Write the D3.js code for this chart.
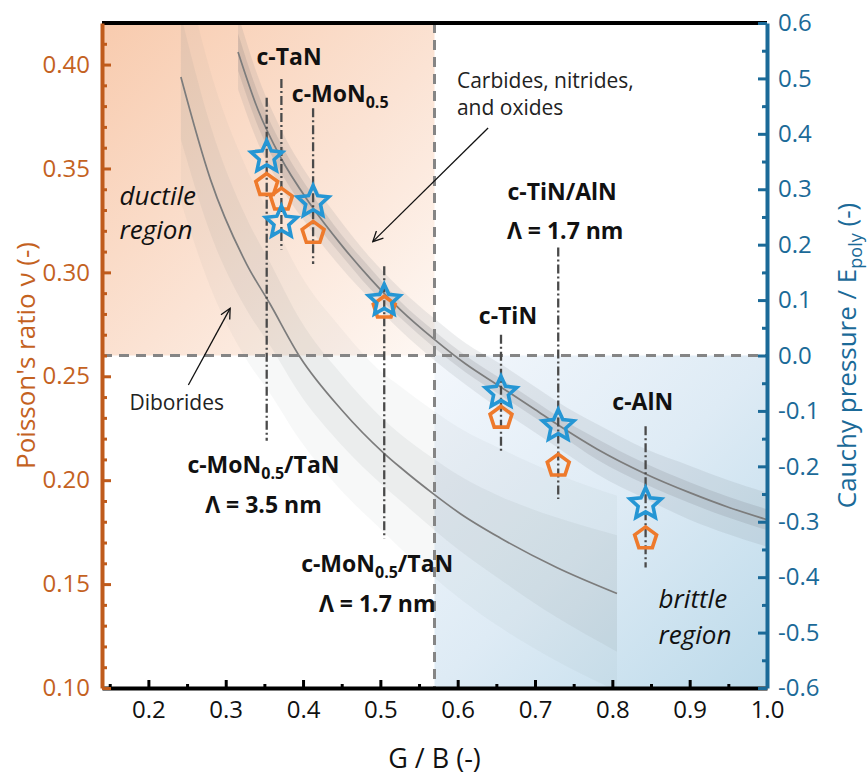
<!DOCTYPE html>
<html>
<head>
<meta charset="utf-8">
<script src="https://cdn.jsdelivr.net/npm/d3@7/dist/d3.min.js"></script>
<style>
  html, body { margin: 0; padding: 0; background: #fff; }
  svg { display: block; font-family: "Open Sans", "Noto Sans", sans-serif; }
</style>
</head>
<body>
<svg id="chart" width="868" height="778"></svg>
<script>
// ---- data -------------------------------------------------------------
// Fitted trend for carbides, nitrides and oxides (G/B vs Poisson's ratio)
const carbGB    = [0.316, 0.342, 0.370, 0.409, 0.450, 0.487, 0.526, 0.569, 0.610, 0.655, 0.700, 0.728, 0.780, 0.843, 0.900, 0.950, 1.000];
const carbNu    = [0.406, 0.378, 0.356, 0.333, 0.313, 0.297, 0.282, 0.268, 0.256, 0.245, 0.234, 0.227, 0.215, 0.203, 0.194, 0.187, 0.181];
const carbInner = [0.009, 0.008, 0.007, 0.006, 0.005, 0.005, 0.004, 0.004, 0.004, 0.004, 0.004, 0.004, 0.005, 0.005, 0.005, 0.005, 0.005];
const carbOuter = [0.018, 0.016, 0.014, 0.012, 0.011, 0.010, 0.010, 0.010, 0.010, 0.011, 0.011, 0.011, 0.012, 0.012, 0.013, 0.013, 0.013];

// Fitted trend for diborides
const dibGB    = [0.242, 0.280, 0.327, 0.357, 0.396, 0.450, 0.504, 0.526, 0.569, 0.603, 0.655, 0.728, 0.806];
const dibNu    = [0.394, 0.345, 0.304, 0.285, 0.2593, 0.2338, 0.2132, 0.2061, 0.1933, 0.1840, 0.1722, 0.1580, 0.1455];
const dibInner = [0.030, 0.026, 0.022, 0.020, 0.018, 0.017, 0.016, 0.016, 0.017, 0.018, 0.020, 0.024, 0.028];
const dibOuter = [0.060, 0.052, 0.046, 0.043, 0.040, 0.039, 0.038, 0.039, 0.040, 0.041, 0.043, 0.045, 0.047];

// Materials: G/B, Poisson's ratio (pentagons), Cauchy pressure / E_poly (stars)
const materials   = ["c-MoN0.5/TaN 3.5 nm", "c-TaN", "c-MoN0.5", "c-MoN0.5/TaN 1.7 nm", "c-TiN", "c-TiN/AlN 1.7 nm", "c-AlN"];
const matGB       = [0.353, 0.372, 0.413, 0.505, 0.656, 0.730, 0.843];
const matPoisson  = [0.342, 0.335, 0.319, 0.283, 0.230, 0.207, 0.172];
const matCauchy   = [0.358, 0.240, 0.277, 0.099, -0.067, -0.127, -0.268];
const guideTop    = [0.384, 0.393, 0.379, 0.303, 0.270, 0.312, 0.226];
const guideBottom = [0.219, 0.311, 0.304, 0.172, 0.213, 0.191, 0.158];

// Ductile / brittle criteria
const pughRatio = 0.57;
const poissonCritical = 0.26;

// Axis ticks
const xTicks      = [0.2, 0.3, 0.4, 0.5, 0.6, 0.7, 0.8, 0.9, 1.0];
const xMinor      = [0.15, 0.25, 0.35, 0.45, 0.55, 0.65, 0.75, 0.85, 0.95];
const leftTicks   = [0.10, 0.15, 0.20, 0.25, 0.30, 0.35, 0.40];
const leftMinor   = [0.11,0.12,0.13,0.14,0.16,0.17,0.18,0.19,0.21,0.22,0.23,0.24,0.26,0.27,0.28,0.29,0.31,0.32,0.33,0.34,0.36,0.37,0.38,0.39,0.41];
const rightTicks  = [-0.6, -0.5, -0.4, -0.3, -0.2, -0.1, 0.0, 0.1, 0.2, 0.3, 0.4, 0.5, 0.6];
const rightMinor  = [-0.55, -0.45, -0.35, -0.25, -0.15, -0.05, 0.05, 0.15, 0.25, 0.35, 0.45, 0.55];

// ---- layout -----------------------------------------------------------
const svg = d3.select("#chart");
const L = 102, R = 767, T = 23, B = 688;
const x  = d3.scaleLinear().domain([0.14, 1.0]).range([L, R]);
const yL = d3.scaleLinear().domain([0.10, 0.42]).range([B, T]);
const yR = d3.scaleLinear().domain([-0.6, 0.6]).range([B, T]);

const ORANGE = "#bf5b1c", ORANGE_TXT = "#c4621f";
const BLUE = "#1b6a98";
const defs = svg.append("defs");

defs.append("clipPath").attr("id", "plotClip")
  .append("rect").attr("x", L).attr("y", T).attr("width", R - L).attr("height", B - T);

const gOr = defs.append("linearGradient").attr("id", "ductileGrad")
  .attr("x1", "0").attr("y1", "0").attr("x2", "1").attr("y2", "1");
gOr.append("stop").attr("offset", "0%").attr("stop-color", "#f8cbae");
gOr.append("stop").attr("offset", "55%").attr("stop-color", "#fbe3d4");
gOr.append("stop").attr("offset", "100%").attr("stop-color", "#fef8f4");

const gBl = defs.append("linearGradient").attr("id", "brittleGrad")
  .attr("x1", "0").attr("y1", "0").attr("x2", "1").attr("y2", "1");
gBl.append("stop").attr("offset", "0%").attr("stop-color", "#f3f7fc");
gBl.append("stop").attr("offset", "50%").attr("stop-color", "#deebf5");
gBl.append("stop").attr("offset", "100%").attr("stop-color", "#bcdaea");

defs.append("marker").attr("id", "arrowHead")
  .attr("viewBox", "0 0 12 12").attr("refX", 11).attr("refY", 6)
  .attr("markerWidth", 12).attr("markerHeight", 12).attr("markerUnits", "userSpaceOnUse")
  .attr("orient", "auto")
  .append("path").attr("d", "M1,1 L11,6 L1,11").attr("fill", "none")
  .attr("stroke", "#111").attr("stroke-width", 1.3);

// ---- region shading ---------------------------------------------------
svg.append("rect")
  .attr("x", x(0.14)).attr("y", yL(0.42))
  .attr("width", x(pughRatio) - x(0.14)).attr("height", yL(poissonCritical) - yL(0.42))
  .attr("fill", "url(#ductileGrad)");
svg.append("rect")
  .attr("x", x(pughRatio)).attr("y", yL(poissonCritical))
  .attr("width", x(1.0) - x(pughRatio)).attr("height", yL(0.10) - yL(poissonCritical))
  .attr("fill", "url(#brittleGrad)");

// ---- trend bands and lines -------------------------------------------
const plot = svg.append("g").attr("clip-path", "url(#plotClip)");

function band(gb, nu, half, fill) {
  const rows = gb.map((g, i) => ({ g, lo: nu[i] - half[i], hi: nu[i] + half[i] }));
  const area = d3.area().x(d => x(d.g)).y0(d => yL(d.lo)).y1(d => yL(d.hi)).curve(d3.curveMonotoneX);
  plot.append("path").datum(rows).attr("d", area).attr("fill", fill);
}
function trend(gb, nu) {
  const line = d3.line().x((d, i) => x(gb[i])).y(d => yL(d)).curve(d3.curveMonotoneX);
  plot.append("path").datum(nu).attr("d", line)
    .attr("fill", "none").attr("stroke", "#7c7c7c").attr("stroke-width", 1.7);
}

band(dibGB, dibNu, dibOuter, "rgba(125,130,135,0.06)");
band(dibGB, dibNu, dibInner, "rgba(125,130,135,0.09)");
band(carbGB, carbNu, carbOuter, "rgba(110,115,120,0.12)");
band(carbGB, carbNu, carbInner, "rgba(90,95,100,0.14)");
trend(dibGB, dibNu);
trend(carbGB, carbNu);

// ---- criteria lines ---------------------------------------------------
svg.append("line")
  .attr("x1", x(0.14)).attr("x2", x(1.0))
  .attr("y1", yL(poissonCritical)).attr("y2", yL(poissonCritical))
  .attr("stroke", "#858585").attr("stroke-width", 3).attr("stroke-dasharray", "10,7");
svg.append("line")
  .attr("x1", x(pughRatio)).attr("x2", x(pughRatio))
  .attr("y1", yL(0.42)).attr("y2", yL(0.10))
  .attr("stroke", "#858585").attr("stroke-width", 3).attr("stroke-dasharray", "10,7");

// ---- guide lines under each material ----------------------------------
svg.append("g").selectAll("line").data(matGB).join("line")
  .attr("x1", d => x(d)).attr("x2", d => x(d))
  .attr("y1", (d, i) => yL(guideTop[i])).attr("y2", (d, i) => yL(guideBottom[i]))
  .attr("stroke", "#4a4a4a").attr("stroke-width", 2.3)
  .attr("stroke-dasharray", "9,3,2,3");

// ---- markers ----------------------------------------------------------
function polyPath(n, rOut, rIn) {
  const pts = [];
  const step = Math.PI / n;
  for (let k = 0; k < 2 * n; k++) {
    if (rIn == null && k % 2 === 1) continue;
    const r = (rIn == null) ? rOut : (k % 2 === 0 ? rOut : rIn);
    const a = -Math.PI / 2 + k * step;
    pts.push([r * Math.cos(a), r * Math.sin(a)]);
  }
  return "M" + pts.map(p => p[0].toFixed(2) + "," + p[1].toFixed(2)).join("L") + "Z";
}
const pentagon = polyPath(5, 11.5);
const star = polyPath(5, 16.5, 7.8);

svg.append("g").selectAll("path").data(matGB).join("path")
  .attr("d", pentagon)
  .attr("transform", (d, i) => `translate(${x(d)},${yL(matPoisson[i])})`)
  .attr("fill", "none").attr("stroke", "#ee7a2c").attr("stroke-width", 3.6)
  .attr("stroke-linejoin", "miter");
svg.append("g").selectAll("path").data(matGB).join("path")
  .attr("d", star)
  .attr("transform", (d, i) => `translate(${x(d)},${yR(matCauchy[i])})`)
  .attr("fill", "none").attr("stroke", "#2596d4").attr("stroke-width", 3.6)
  .attr("stroke-linejoin", "miter");

// ---- annotations ------------------------------------------------------
const ann = svg.append("g").attr("font-weight", 700).attr("font-size", 23).attr("fill", "#111");
function moLabel(g, px, py, anchor, tail) {
  const t = g.append("text").attr("x", px).attr("y", py).attr("text-anchor", anchor);
  t.append("tspan").text("c-MoN");
  t.append("tspan").attr("font-size", 16).attr("dy", 6).text("0.5");
  if (tail) t.append("tspan").attr("dy", -6).text(tail);
  return t;
}
ann.append("text").attr("x", x(0.382)).attr("y", yL(0.400)).attr("text-anchor", "middle").text("c-TaN");
moLabel(ann, x(0.3855), yL(0.3822), "start", null);
moLabel(ann, x(0.3488), yL(0.2034), "middle", "/TaN");
ann.append("text").attr("x", x(0.3488)).attr("y", yL(0.184)).attr("text-anchor", "middle").text("Λ = 3.5 nm");
moLabel(ann, x(0.4959), yL(0.1559), "middle", "/TaN");
ann.append("text").attr("x", x(0.4959)).attr("y", yL(0.1367)).attr("text-anchor", "middle").text("Λ = 1.7 nm");
ann.append("text").attr("x", x(0.665)).attr("y", yL(0.2753)).attr("text-anchor", "middle").text("c-TiN");
ann.append("text").attr("x", x(0.8393)).attr("y", yL(0.234)).attr("text-anchor", "middle").text("c-AlN");
ann.append("text").attr("x", x(0.735)).attr("y", yL(0.3346)).attr("text-anchor", "middle").text("c-TiN/AlN");
ann.append("text").attr("x", x(0.739)).attr("y", yL(0.3163)).attr("text-anchor", "middle").text("Λ = 1.7 nm");

const notes = svg.append("g").attr("font-size", 21).attr("fill", "#222");
notes.append("text").attr("x", x(0.599)).attr("y", yL(0.3888)).text("Carbides, nitrides,");
notes.append("text").attr("x", x(0.599)).attr("y", yL(0.3758)).text("and oxides");
notes.append("text").attr("x", x(0.1755)).attr("y", yL(0.2339)).text("Diborides");

svg.append("line")
  .attr("x1", x(0.6393)).attr("y1", yL(0.3695)).attr("x2", x(0.4902)).attr("y2", yL(0.3148))
  .attr("stroke", "#111").attr("stroke-width", 1.3).attr("marker-end", "url(#arrowHead)");
svg.append("line")
  .attr("x1", x(0.2517)).attr("y1", yL(0.2458)).attr("x2", x(0.3057)).attr("y2", yL(0.2827))
  .attr("stroke", "#111").attr("stroke-width", 1.3).attr("marker-end", "url(#arrowHead)");

const regions = svg.append("g").attr("font-size", 26).attr("font-style", "italic").attr("fill", "#111");
regions.append("text").attr("x", x(0.1627)).attr("y", yL(0.3322)).text("ductile");
regions.append("text").attr("x", x(0.1627)).attr("y", yL(0.3162)).text("region");
regions.append("text").attr("x", x(0.8598)).attr("y", yL(0.1383)).text("brittle");
regions.append("text").attr("x", x(0.8598)).attr("y", yL(0.1214)).text("region");

// ---- axes -------------------------------------------------------------
function styleAxis(g, color, fontSize) {
  g.select(".domain").attr("stroke", color).attr("stroke-width", 4);
  g.selectAll(".tick line").attr("stroke", color).attr("stroke-width", 3);
  g.selectAll(".tick text").attr("fill", color).attr("font-size", fontSize)
    .attr("font-family", "'Open Sans', sans-serif");
}

// top frame
svg.append("line").attr("x1", L).attr("x2", R).attr("y1", T).attr("y2", T)
  .attr("stroke", "#000").attr("stroke-width", 4);

const xAxis = svg.append("g").attr("transform", `translate(0,${B})`)
  .call(d3.axisBottom(x).tickValues(xTicks).tickSize(-8).tickSizeOuter(0).tickPadding(13)
    .tickFormat(d => d.toFixed(1)));
styleAxis(xAxis, "#000", 24);
xAxis.selectAll(".tick text").attr("fill", "#111");
const xMin = svg.append("g").attr("transform", `translate(0,${B})`)
  .call(d3.axisBottom(x).tickValues(xMinor).tickSize(-4).tickSizeOuter(0).tickFormat(""));
styleAxis(xMin, "#000", 24);
xMin.select(".domain").remove();

const rAxis = svg.append("g").attr("transform", `translate(${R},0)`)
  .call(d3.axisRight(yR).tickValues(rightTicks).tickSize(-9).tickSizeOuter(0).tickPadding(11)
    .tickFormat(d => d.toFixed(1)));
styleAxis(rAxis, BLUE, 24);
const rMin = svg.append("g").attr("transform", `translate(${R},0)`)
  .call(d3.axisRight(yR).tickValues(rightMinor).tickSize(-5).tickSizeOuter(0).tickFormat(""));
styleAxis(rMin, BLUE, 24);
rMin.select(".domain").remove();

const lAxis = svg.append("g").attr("transform", `translate(${L},0)`)
  .call(d3.axisLeft(yL).tickValues(leftTicks).tickSize(-9).tickSizeOuter(0).tickPadding(12)
    .tickFormat(d => d.toFixed(2)));
styleAxis(lAxis, ORANGE, 24);
lAxis.selectAll(".tick text").attr("fill", ORANGE_TXT);
const lMin = svg.append("g").attr("transform", `translate(${L},0)`)
  .call(d3.axisLeft(yL).tickValues(leftMinor).tickSize(-5).tickSizeOuter(0).tickFormat(""));
styleAxis(lMin, ORANGE, 24);
lMin.select(".domain").remove();

// ---- axis titles ------------------------------------------------------
svg.append("text").attr("x", (L + R) / 2).attr("y", 768).attr("text-anchor", "middle")
  .attr("font-size", 27).attr("fill", "#111").text("G / B (-)");

svg.append("text").attr("transform", `translate(35,${(T + B) / 2}) rotate(-90)`)
  .attr("text-anchor", "middle").attr("font-size", 26).attr("fill", ORANGE_TXT)
  .text("Poisson's ratio ν (-)");

const rt = svg.append("text").attr("transform", `translate(856,${(T + B) / 2}) rotate(-90)`)
  .attr("text-anchor", "middle").attr("font-size", 26).attr("fill", BLUE);
rt.append("tspan").text("Cauchy pressure / E");
rt.append("tspan").attr("font-size", 18).attr("dy", 6).text("poly");
rt.append("tspan").attr("dy", -6).text(" (-)");
</script>
</body>
</html>
